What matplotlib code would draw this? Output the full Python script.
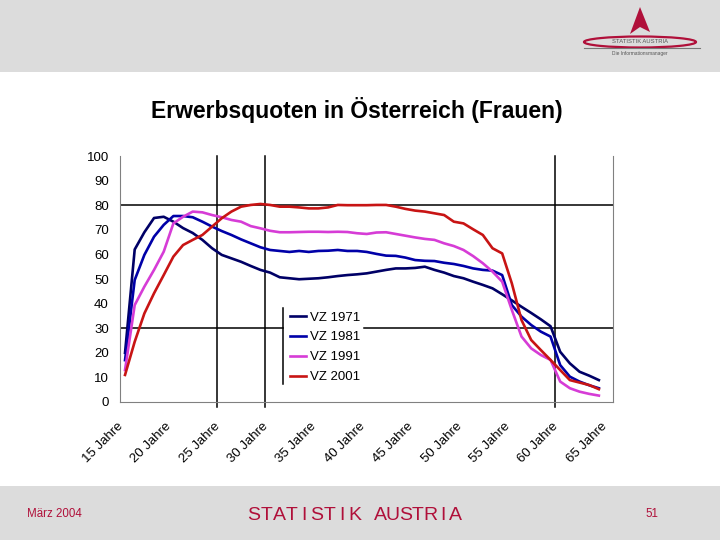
import matplotlib
matplotlib.use('Agg')
import matplotlib.pyplot as plt
import matplotlib.transforms as mtransforms
from matplotlib.patches import Rectangle, Polygon, Ellipse
from matplotlib.lines import Line2D

plt.rcParams['font.family'] = ['Liberation Sans', 'DejaVu Sans']

# Alter 15 bis 64
ages = list(range(15, 65))

vz1971 = [20, 62, 69, 74.8, 75.3, 73.3, 70.7, 68.7, 65.9, 62.5,
          59.8, 58.4, 57, 55.3, 53.7, 52.6, 50.7, 50.3, 49.9, 50.1,
          50.3, 50.7, 51.2, 51.6, 51.9, 52.3, 53, 53.7, 54.3, 54.3,
          54.5, 55, 53.7, 52.6, 51.2, 50.3, 48.9, 47.6, 46.2, 43.8,
          41.3, 38.7, 36.2, 33.6, 30.8, 20.4, 15.7, 12.3, 10.7, 8.9]
vz1981 = [17, 49.6, 59.8, 67.2, 72, 75.6, 75.6, 75.1, 73.3, 71.3,
          69.5, 67.9, 66.1, 64.5, 62.9, 61.8, 61.4, 61, 61.4, 61,
          61.4, 61.5, 61.8, 61.4, 61.4, 61, 60.2, 59.5, 59.4, 58.7,
          57.7, 57.4, 57.3, 56.6, 56.1, 55.3, 54.3, 53.7, 53.4, 51.6,
          39.4, 34.7, 31.3, 28.6, 26.6, 15, 10.3, 8.3, 6.8, 5.6]
vz1991 = [13, 39.4, 46.9, 53.7, 61.1, 72.6, 75.3, 77.4, 77.1, 76,
          75.1, 74, 73.3, 71.5, 70.6, 69.6, 69, 69, 69.1, 69.2,
          69.2, 69.1, 69.2, 69.1, 68.6, 68.3, 68.9, 69, 68.3, 67.6,
          66.9, 66.3, 65.9, 64.5, 63.4, 61.8, 59.3, 56.4, 53, 48.9,
          37.4, 26.6, 21.8, 19.1, 17.1, 8.3, 5.6, 4.2, 3.3, 2.6]
vz2001 = [11, 24.5, 36, 44.2, 51.6, 59.1, 63.8, 65.9, 67.9, 71.3,
          74.7, 77.4, 79.4, 80.1, 80.5, 80.1, 79.4, 79.4, 79.1, 78.7,
          78.7, 79.1, 80.1, 80, 80, 80, 80.1, 80.1, 79.4, 78.5,
          77.8, 77.4, 76.7, 76, 73.3, 72.6, 70.2, 67.9, 62.5, 60.4,
          48.2, 33.3, 25.2, 21.1, 17.1, 13, 8.9, 7.9, 6.9, 5.2]

series = {'VZ 1971': vz1971, 'VZ 1981': vz1981, 'VZ 1991': vz1991, 'VZ 2001': vz2001}
colors = ['#000066', '#0000A8', '#D63CD6', '#C81414']

xticks = list(range(15, 70, 5))
xlabels = [f'{a} Jahre' for a in xticks]
yticks = list(range(0, 110, 10))

fig = plt.figure(figsize=(7.2, 5.4), dpi=100)
fig.patch.set_facecolor('white')

# Kopf- und Fussleiste
fig.patches.append(Rectangle((0, 1 - 72 / 540), 1, 72 / 540, transform=fig.transFigure,
                             facecolor='#DCDCDC', edgecolor='none', zorder=0))
fig.patches.append(Rectangle((0, 0), 1, 54 / 540, transform=fig.transFigure,
                             facecolor='#DCDCDC', edgecolor='none', zorder=0))

# Logo (vereinfacht)
red = '#B0103A'
fig.patches.append(Polygon([(640 / 720, 1 - 7 / 540), (630 / 720, 1 - 34 / 540),
                            (640 / 720, 1 - 27 / 540), (650 / 720, 1 - 32 / 540)],
                           closed=True, transform=fig.transFigure, facecolor=red, edgecolor='none'))
fig.patches.append(Ellipse((640 / 720, 1 - 42 / 540), 112 / 720, 11 / 540, transform=fig.transFigure,
                           facecolor='none', edgecolor=red, lw=1.6))
fig.text(640 / 720, 1 - 42 / 540, 'STATISTIK AUSTRIA', fontsize=4.2, ha='center', va='center',
         color='#555555', bbox=dict(facecolor='#DCDCDC', edgecolor='none', pad=0.5))
fig.lines.append(Line2D([584 / 720, 700 / 720], [1 - 48 / 540, 1 - 48 / 540], transform=fig.transFigure,
                        color='#777777', lw=0.8))
fig.text(640 / 720, 1 - 53 / 540, 'Die Informationsmanager', fontsize=3.5, ha='center', va='center',
         color='#555555')

fig.text(357 / 720, 1 - 110 / 540, 'Erwerbsquoten in Österreich (Frauen)', fontsize=16.5,
         fontweight='bold', ha='center', va='center')

fig.text(27 / 720, 1 - 514 / 540, 'März 2004', fontsize=8.3, color=red, ha='left', va='center')
footer = 'STATISTIK AUSTRIA'
for i, ch in enumerate(footer):
    fig.text((254 + i * 12.6) / 720, 1 - 515 / 540, ch, fontsize=14, color=red, ha='center',
             va='center', family=['DejaVu Sans Condensed', 'Liberation Sans Narrow', 'Liberation Sans'])
fig.text(652 / 720, 1 - 514 / 540, '51', fontsize=8.3, color=red, ha='center', va='center')

ax = fig.add_axes([120 / 720, 1 - 402 / 540, 493 / 720, 246 / 540])
for (name, vals), c in zip(series.items(), colors):
    ax.plot(ages, vals, color=c, lw=1.9, label=name, zorder=3)

ax.set_xlim(14.48, 65.46)
ax.set_ylim(0, 100)
ax.set_yticks(yticks)
ax.set_xticks(xticks)
ax.set_xticklabels(xlabels, rotation=45, ha='right', rotation_mode='anchor')
ax.tick_params(axis='both', length=0, labelsize=9.5)
ax.tick_params(axis='y', pad=8)
ax.tick_params(axis='x', pad=8)
shift = mtransforms.ScaledTranslation(-0.08, -0.07, fig.dpi_scale_trans)
for lbl in ax.get_xticklabels():
    lbl.set_transform(lbl.get_transform() + shift)

for s in ['left', 'bottom', 'right']:
    ax.spines[s].set_color('#808080')
ax.spines['top'].set_visible(False)

# schwarze Hilfslinien
ax.axhline(80, color='black', lw=1.1, zorder=2)
leg_left, leg_right = 31.34, 39.72
ax.plot([14.48, leg_left], [30, 30], color='black', lw=1.1, zorder=2)
ax.plot([leg_right, 65.46], [30, 30], color='black', lw=1.1, zorder=2)
ax.plot([leg_left, leg_left], [7.3, 38.2], color='black', lw=1.1, zorder=2)
for xv in [24.5, 29.5, 59.5]:
    ax.axvline(xv, ymin=-0.02, ymax=1.0, color='black', lw=1.1, zorder=2, clip_on=False)

leg = ax.legend(loc='upper left', bbox_to_anchor=(0.335, 0.39), frameon=False, fontsize=9.5,
                handlelength=1.2, handletextpad=0.3, labelspacing=0.58, borderaxespad=0)

fig.savefig('out.png', dpi=100)
